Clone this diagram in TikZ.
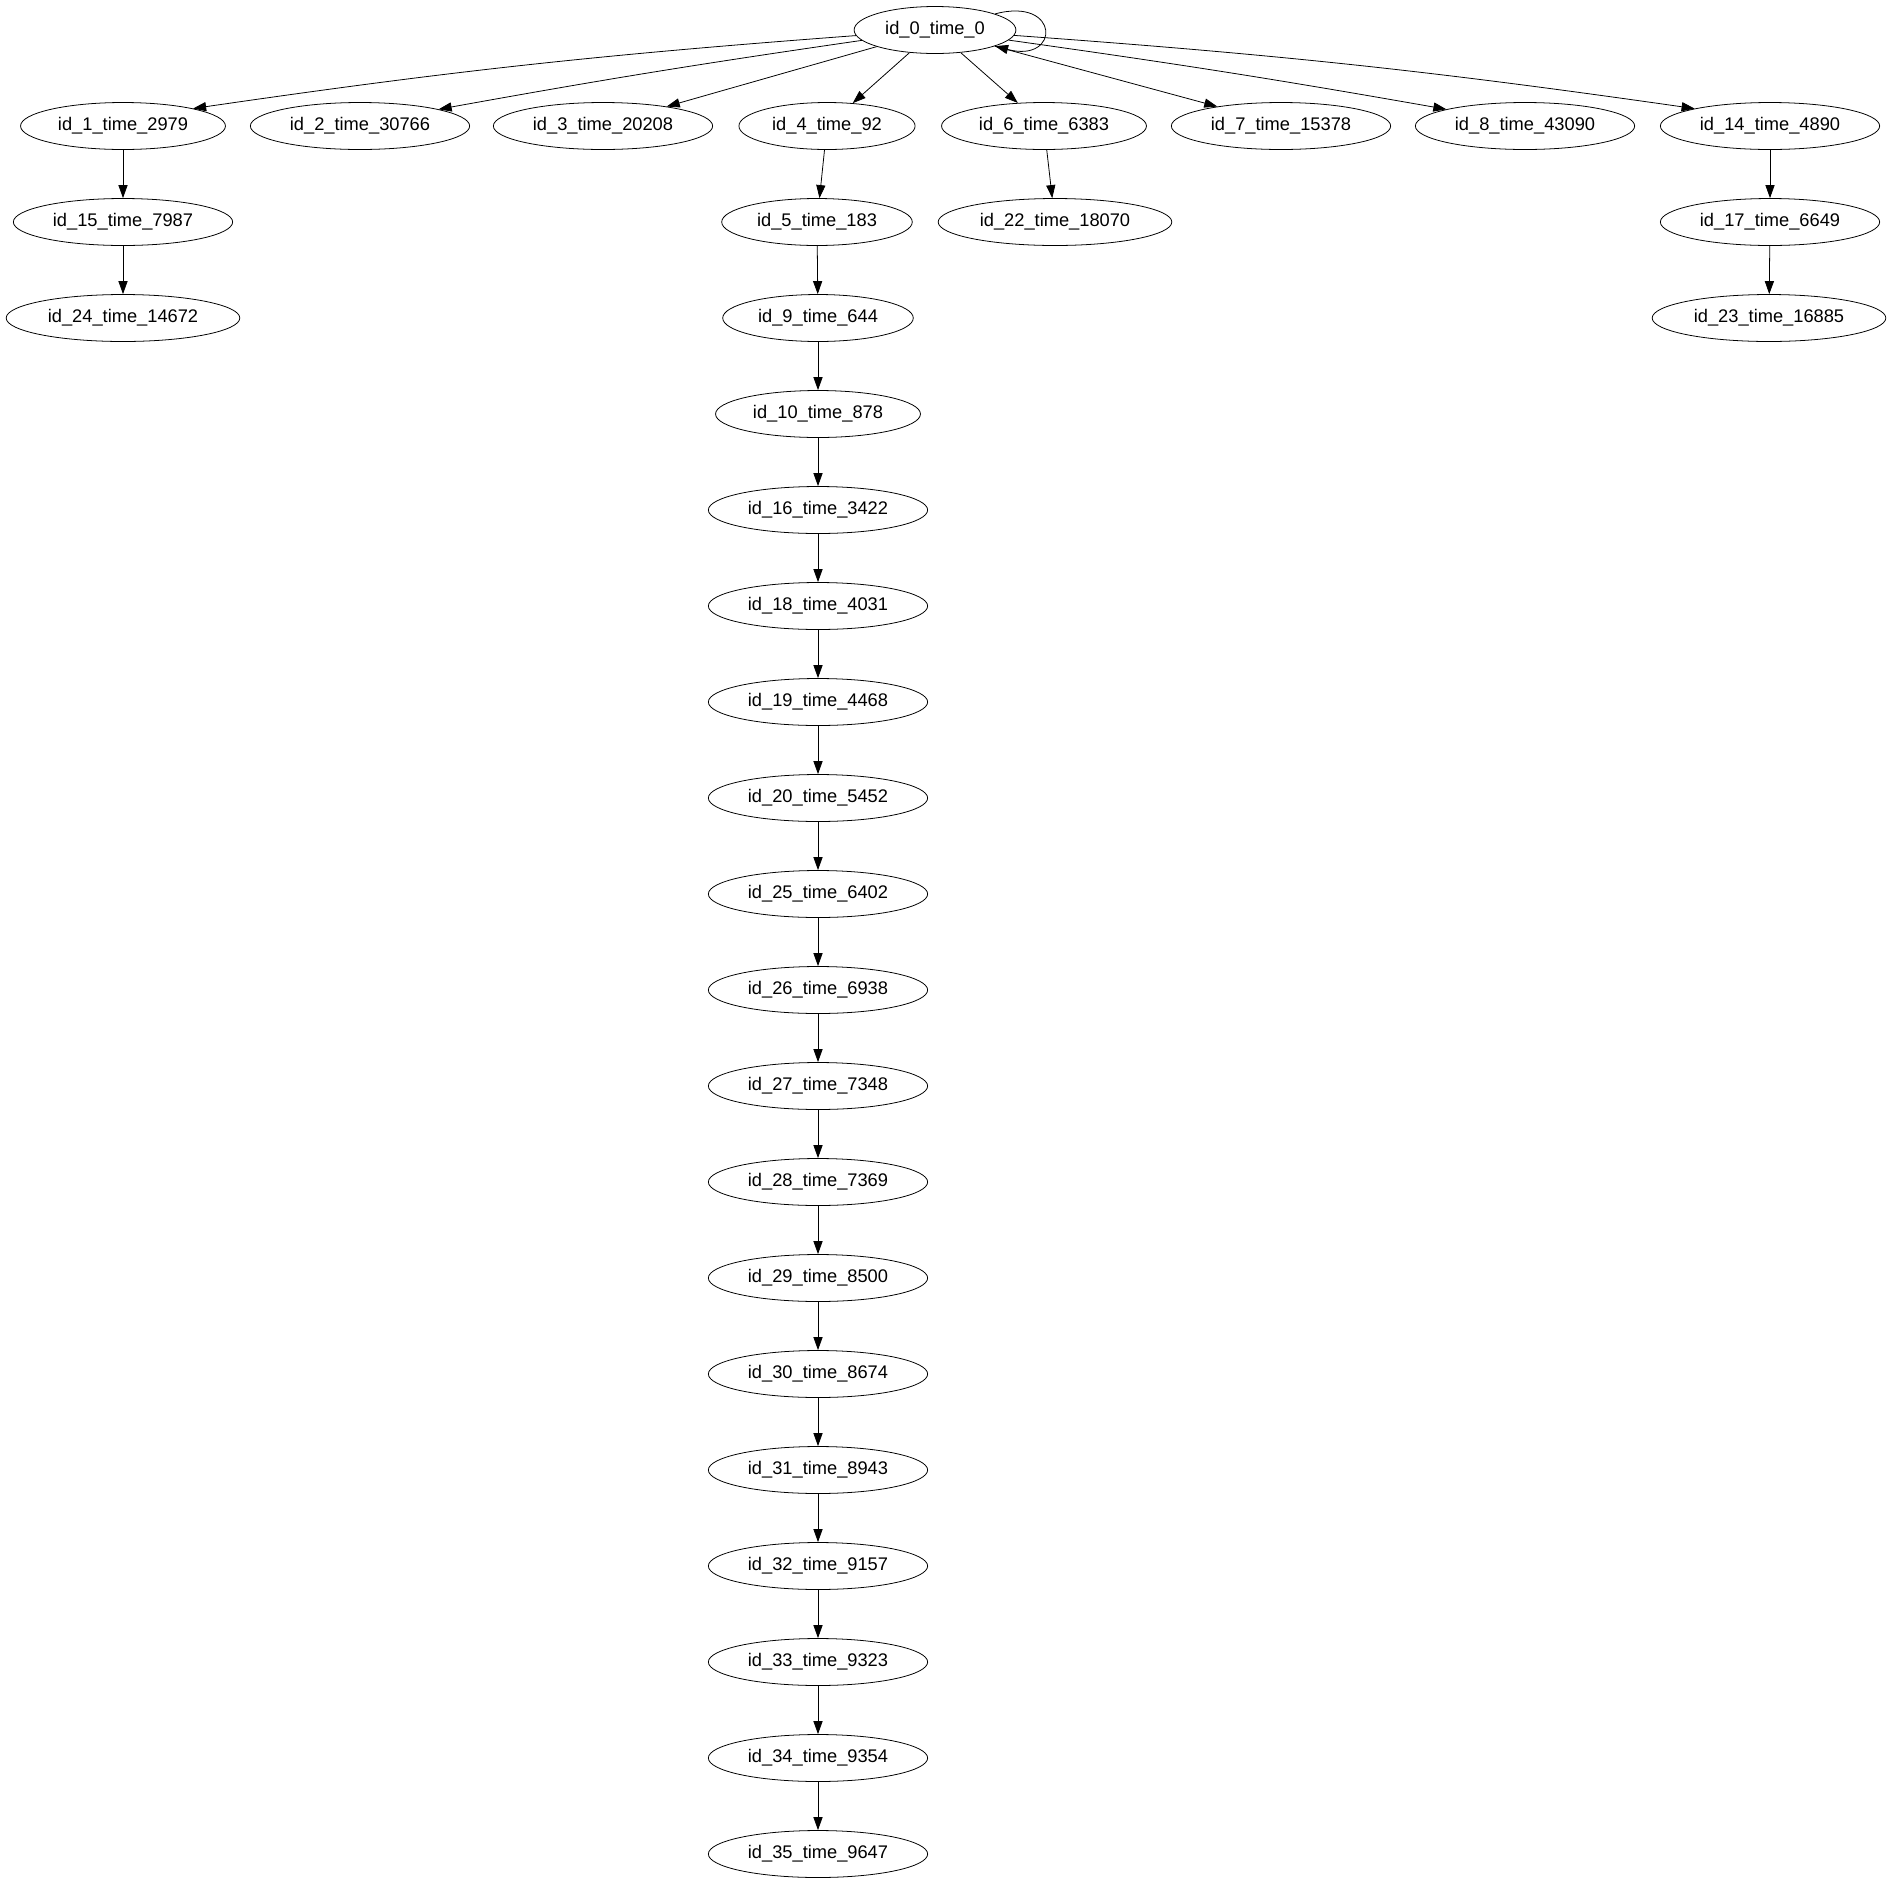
\documentclass[tikz,border=0pt]{standalone}
\usepackage{fontspec}
\setmainfont{Liberation Sans}
\usetikzlibrary{arrows.meta,shapes.geometric}
\tikzset{>={Triangle[length=10pt,width=7pt]}}
\tikzstyle{event}=[ellipse,draw=black,line width=0.6pt,inner xsep=5.7pt,inner ysep=0pt,minimum height=36pt,font=\fontsize{14}{16}\selectfont]
\tikzstyle{link}=[->,line width=0.6pt]

\begin{document}
\begin{tikzpicture}[x=0.7663pt,y=-0.7663pt]
	\useasboundingbox (0,0) rectangle (1892,1883);

	% root and first level
	\node[event] (id0) at (935,30) {id\_0\_time\_0};
	\node[event] (id1) at (123,126) {id\_1\_time\_2979};
	\node[event] (id2) at (360,126) {id\_2\_time\_30766};
	\node[event] (id3) at (603,126) {id\_3\_time\_20208};
	\node[event] (id4) at (827,126) {id\_4\_time\_92};
	\node[event] (id6) at (1044,126) {id\_6\_time\_6383};
	\node[event] (id7) at (1281,126) {id\_7\_time\_15378};
	\node[event] (id8) at (1525,126) {id\_8\_time\_43090};
	\node[event] (id14) at (1770,126) {id\_14\_time\_4890};

	% short branches
	\node[event] (id15) at (123,222) {id\_15\_time\_7987};
	\node[event] (id24) at (123,318) {id\_24\_time\_14672};
	\node[event] (id22) at (1055,222) {id\_22\_time\_18070};
	\node[event] (id17) at (1770,222) {id\_17\_time\_6649};
	\node[event] (id23) at (1769,318) {id\_23\_time\_16885};

	% long chain
	\node[event] (id5) at (817,222) {id\_5\_time\_183};
	\node[event] (id9) at (818,318) {id\_9\_time\_644};
	\node[event] (id10) at (818,414) {id\_10\_time\_878};
	\node[event] (id16) at (818,510) {id\_16\_time\_3422};
	\node[event] (id18) at (818,606) {id\_18\_time\_4031};
	\node[event] (id19) at (818,702) {id\_19\_time\_4468};
	\node[event] (id20) at (818,798) {id\_20\_time\_5452};
	\node[event] (id25) at (818,894) {id\_25\_time\_6402};
	\node[event] (id26) at (818,990) {id\_26\_time\_6938};
	\node[event] (id27) at (818,1086) {id\_27\_time\_7348};
	\node[event] (id28) at (818,1182) {id\_28\_time\_7369};
	\node[event] (id29) at (818,1278) {id\_29\_time\_8500};
	\node[event] (id30) at (818,1374) {id\_30\_time\_8674};
	\node[event] (id31) at (818,1470) {id\_31\_time\_8943};
	\node[event] (id32) at (818,1566) {id\_32\_time\_9157};
	\node[event] (id33) at (818,1662) {id\_33\_time\_9323};
	\node[event] (id34) at (818,1758) {id\_34\_time\_9354};
	\node[event] (id35) at (818,1854) {id\_35\_time\_9647};

	\draw[link] (id0) to[out=15,in=-15,min distance=52pt] (id0);
	\draw[link] (id0) to[bend right=2] (id1.14);
	\draw[link] (id0) to[bend right=1] (id2.12);
	\draw[link] (id0) -- (id3.17);
	\draw[link] (id0) -- (id4);
	\draw[link] (id0) -- (id6);
	\draw[link] (id0) -- (id7.163);
	\draw[link] (id0) to[bend left=1] (id8.168);
	\draw[link] (id0) to[bend left=2] (id14.167);

	\draw[link] (id1) -- (id15);
	\draw[link] (id15) -- (id24);
	\draw[link] (id6) -- (id22);
	\draw[link] (id14) -- (id17);
	\draw[link] (id17) -- (id23);

	\draw[link] (id4) -- (id5);
	\draw[link] (id5) -- (id9);
	\draw[link] (id9) -- (id10);
	\draw[link] (id10) -- (id16);
	\draw[link] (id16) -- (id18);
	\draw[link] (id18) -- (id19);
	\draw[link] (id19) -- (id20);
	\draw[link] (id20) -- (id25);
	\draw[link] (id25) -- (id26);
	\draw[link] (id26) -- (id27);
	\draw[link] (id27) -- (id28);
	\draw[link] (id28) -- (id29);
	\draw[link] (id29) -- (id30);
	\draw[link] (id30) -- (id31);
	\draw[link] (id31) -- (id32);
	\draw[link] (id32) -- (id33);
	\draw[link] (id33) -- (id34);
	\draw[link] (id34) -- (id35);
\end{tikzpicture}
\end{document}
